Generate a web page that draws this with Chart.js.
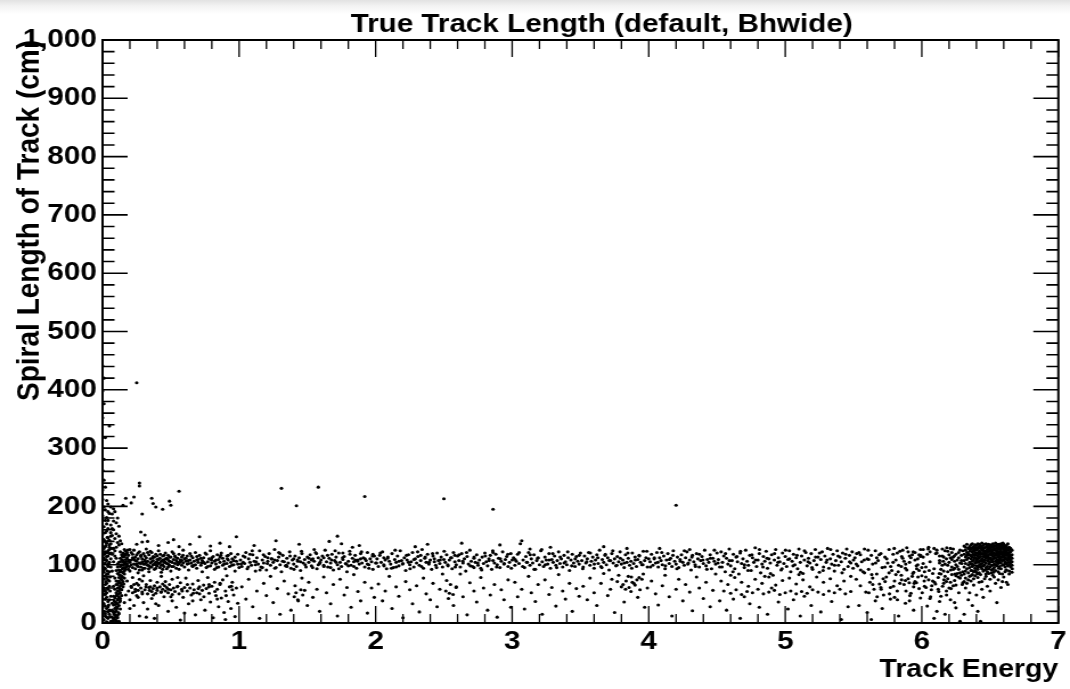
<!DOCTYPE html>
<html>
<head>
<meta charset="utf-8">
<title>True Track Length</title>
<script src="https://cdn.jsdelivr.net/npm/chart.js@4.4.1/dist/chart.umd.min.js"></script>
<style>
  html, body { margin: 0; padding: 0; }
  body { width: 1070px; height: 689px; overflow: hidden;
         background: linear-gradient(to bottom, #e2e2e2 0px, #f3f3f3 6px, #fff 14px); }
  #wrap { width: 939px; height: 689px; transform: scaleX(1.1395); transform-origin: 0 0; }
</style>
</head>
<body>
<div id="wrap"><canvas id="lengthChart" width="939" height="689"></canvas></div>
<script>
// energy (GeV) / spiral length (cm) pairs, flat: e0,l0, e1,l1, ...
const edgeColumn = [
  0.01,5, 0.02,12, 0.00,18, 0.03,25, 0.01,33, 0.04,8, 0.02,41, 0.05,15, 0.00,47, 0.03,52, 0.01,60, 0.04,37,
  0.02,66, 0.05,72, 0.00,78, 0.03,84, 0.01,91, 0.04,97, 0.02,103, 0.06,110, 0.00,116, 0.03,121, 0.01,128,
  0.05,134, 0.02,140, 0.04,146, 0.00,152, 0.03,158, 0.01,165, 0.06,3, 0.02,29, 0.04,58, 0.00,88, 0.05,119,
  0.01,143, 0.03,170, 0.02,176, 0.00,184, 0.04,191, 0.01,199, 0.03,10, 0.05,22, 0.00,35, 0.02,55, 0.04,74,
  0.01,95, 0.03,107, 0.05,126, 0.00,138, 0.02,155, 0.04,162, 0.06,149, 0.01,20, 0.03,44, 0.00,63, 0.02,81,
  0.04,99, 0.01,112, 0.05,130, 0.03,137, 0.00,160, 0.02,122, 0.06,96, 0.05,88, 0.04,115, 0.01,75, 0.03,68,
  0.00,100, 0.02,93, 0.04,124, 0.06,136, 0.01,108, 0.03,114, 0.05,104, 0.00,125, 0.02,131, 0.04,84, 0.06,120,
  0.01,87, 0.03,77, 0.00,70, 0.05,63, 0.02,49, 0.04,28, 0.00,8, 0.01,50, 0.03,2, 0.06,46, 0.05,40, 0.02,16,
  0.04,19, 0.00,26,
  0.015,56, 0.035,89, 0.025,133, 0.045,102, 0.055,79, 0.015,118, 0.035,147, 0.025,71, 0.045,31, 0.055,11,
  0.065,128, 0.015,94, 0.035,60, 0.025,109, 0.045,141, 0.055,55
];
const rampColumn = [
  0.08,2, 0.09,6, 0.10,4, 0.07,10, 0.09,14, 0.11,9, 0.08,18, 0.10,21, 0.12,16, 0.09,25, 0.11,28, 0.08,31,
  0.10,35, 0.12,30, 0.11,40, 0.09,43, 0.13,38, 0.10,47, 0.12,50, 0.11,55, 0.13,52, 0.09,58, 0.12,61, 0.14,57,
  0.11,66, 0.13,69, 0.10,72, 0.14,74, 0.12,78, 0.15,71, 0.13,82, 0.11,85, 0.14,88, 0.16,84, 0.12,91, 0.15,94,
  0.13,97, 0.17,92, 0.14,100, 0.16,103, 0.12,104, 0.15,107, 0.17,109, 0.13,111, 0.16,114, 0.14,117, 0.18,112,
  0.15,120, 0.17,123, 0.16,126, 0.13,122, 0.10,0, 0.08,8, 0.12,3, 0.11,13, 0.07,22, 0.13,24, 0.10,27, 0.09,36,
  0.12,45, 0.14,47, 0.10,52, 0.08,63, 0.11,60, 0.13,64, 0.15,62, 0.09,77, 0.12,72, 0.14,80, 0.10,90, 0.16,77,
  0.15,99, 0.13,105, 0.18,101, 0.17,118, 0.11,96, 0.14,108, 0.16,95, 0.19,106, 0.18,120, 0.15,113, 0.12,83,
  0.10,66, 0.08,46, 0.07,34, 0.09,19, 0.11,33, 0.13,42, 0.12,55, 0.14,66, 0.15,86, 0.13,90, 0.16,89, 0.11,101,
  0.10,111, 0.09,124, 0.07,89, 0.08,105, 0.07,118, 0.08,128, 0.09,115, 0.10,130, 0.12,134,
  0.085,15, 0.095,32, 0.105,48, 0.115,69, 0.125,88, 0.135,99, 0.145,115, 0.155,104, 0.165,117, 0.175,96,
  0.185,125, 0.095,10, 0.105,25, 0.115,42, 0.125,59, 0.135,76, 0.145,93, 0.155,118, 0.075,4, 0.085,38,
  0.115,18, 0.125,36, 0.135,58, 0.145,79, 0.155,67, 0.165,101
];
const pileTail = [
  0.05,142, 0.07,150, 0.03,181, 0.06,168, 0.08,160, 0.02,194, 0.09,145, 0.11,138, 0.04,204, 0.07,187,
  0.10,172, 0.12,149, 0.06,199, 0.08,175, 0.05,188, 0.10,153, 0.13,141, 0.07,162, 0.04,176, 0.09,191,
  0.12,166, 0.14,136, 0.06,155, 0.11,180, 0.03,210, 0.08,196,
  0.00,212, 0.02,233, 0.00,228, 0.01,245, 0.00,262, 0.01,281, 0.00,300, 0.02,318, 0.05,338, 0.00,352,
  0.01,376, 0.00,398, 0.01,420, 0.00,441
];
const outliers = [
  0.25,412, 0.27,235, 0.27,240, 0.56,226, 1.31,231, 1.42,201, 1.58,233, 1.72,149, 1.92,217, 2.50,213,
  2.86,195, 4.20,202, 0.23,216, 0.21,206, 0.17,214, 0.15,202, 0.36,214, 0.37,205, 0.39,199, 0.44,195,
  0.49,209, 0.50,202, 0.29,187, 0.28,156, 0.31,151, 0.29,139, 0.71,148, 0.98,148
];
const softBand = [
  0.18,98, 0.19,116, 0.20,104, 0.20,89, 0.21,121, 0.21,108, 0.22,95, 0.22,112, 0.23,101, 0.23,125, 0.24,93,
  0.24,107, 0.25,117, 0.25,99, 0.26,110, 0.26,86, 0.27,103, 0.27,122, 0.28,96, 0.28,114, 0.29,105, 0.29,91,
  0.30,119, 0.30,101, 0.31,108, 0.31,94, 0.32,112, 0.32,127, 0.33,99, 0.33,106, 0.34,117, 0.34,88, 0.35,103,
  0.35,110, 0.36,96, 0.36,121, 0.37,107, 0.37,100, 0.38,113, 0.38,92, 0.39,104, 0.39,118, 0.40,98, 0.40,109,
  0.41,102, 0.41,124, 0.42,95, 0.42,111, 0.43,106, 0.43,87, 0.44,115, 0.44,100, 0.45,108, 0.45,97, 0.46,120,
  0.46,104, 0.47,111, 0.47,93, 0.48,101, 0.48,116, 0.49,106, 0.49,99, 0.50,113, 0.50,89, 0.51,104, 0.51,122,
  0.52,97, 0.52,109, 0.53,102, 0.53,115, 0.54,94, 0.54,107, 0.55,111, 0.55,100, 0.56,118, 0.56,92, 0.57,105,
  0.57,108, 0.58,99, 0.58,113, 0.59,103, 0.59,125, 0.60,96, 0.60,110, 0.61,106, 0.62,101, 0.62,115, 0.63,91,
  0.64,108, 0.64,119, 0.65,103, 0.66,97, 0.66,112, 0.67,106, 0.68,100, 0.68,121, 0.69,94, 0.70,109, 0.70,104,
  0.71,116, 0.72,99, 0.73,107, 0.73,88, 0.74,112, 0.75,102, 0.76,118, 0.76,95, 0.77,105, 0.78,110, 0.79,98,
  0.79,124, 0.80,103, 0.81,114, 0.82,92, 0.82,106, 0.83,101, 0.84,117, 0.85,109, 0.85,96, 0.86,104, 0.87,120,
  0.88,99, 0.88,111, 0.89,106, 0.90,93, 0.91,115, 0.91,102, 0.92,108, 0.93,97, 0.94,119, 0.94,104, 0.95,110,
  0.96,100, 0.97,113, 0.97,89, 0.98,106, 0.99,118, 0.99,101, 1.00,95,
  0.19,108, 0.21,100, 0.22,118, 0.24,113, 0.26,97, 0.27,91, 0.29,110, 0.31,115, 0.32,103, 0.34,98, 0.36,105,
  0.38,101, 0.40,115, 0.42,103, 0.44,92, 0.46,110, 0.48,96, 0.50,105, 0.19,92, 0.23,109, 0.25,106, 0.28,102,
  0.30,94, 0.33,121, 0.35,96, 0.37,114, 0.39,94, 0.41,109, 0.43,99, 0.45,116, 0.47,102, 0.49,113, 0.20,126,
  0.26,120, 0.31,101, 0.35,123, 0.40,104, 0.44,108, 0.52,119, 0.55,104, 0.58,107, 0.61,111, 0.63,102,
  0.65,115, 0.67,99, 0.69,108, 0.72,111, 0.74,104, 0.77,97, 0.80,112, 0.83,108, 0.86,113, 0.89,101, 0.92,116,
  0.96,107,
  0.25,135, 0.33,140, 0.41,133, 0.48,138, 0.56,131, 0.64,135, 0.79,132, 0.86,137, 0.93,131, 0.52,143,
  0.171,105, 0.196,97, 0.224,111, 0.252,101, 0.281,116, 0.309,106, 0.338,93, 0.366,112, 0.394,99, 0.423,118,
  0.451,104, 0.478,109, 0.507,97, 0.534,113, 0.561,102, 0.589,116, 0.627,107, 0.656,98, 0.691,114, 0.724,103,
  0.752,120, 0.797,108, 0.836,95, 0.866,116, 0.914,110, 0.947,99
];
const softLow = [
  0.18,72, 0.19,55, 0.20,40, 0.21,63, 0.22,78, 0.22,52, 0.23,30, 0.24,58, 0.25,68, 0.25,47, 0.26,56, 0.27,12,
  0.27,75, 0.28,60, 0.29,53, 0.30,35, 0.30,81, 0.31,57, 0.32,66, 0.33,50, 0.33,24, 0.34,61, 0.35,73, 0.36,54,
  0.36,42, 0.37,59, 0.38,8, 0.38,64, 0.39,51, 0.40,70, 0.40,56, 0.41,30, 0.42,62, 0.43,53, 0.43,80, 0.44,58,
  0.45,45, 0.46,55, 0.46,71, 0.47,61, 0.48,20, 0.48,52, 0.49,66, 0.50,57, 0.51,38, 0.51,75, 0.52,60, 0.53,54,
  0.54,27, 0.55,63, 0.56,50, 0.57,69, 0.57,5, 0.58,58, 0.59,44, 0.60,61, 0.61,77, 0.62,55, 0.63,33, 0.64,60,
  0.65,48, 0.66,67, 0.67,57, 0.68,14, 0.69,52, 0.70,73, 0.71,62, 0.72,40, 0.73,56, 0.74,65, 0.75,22, 0.76,59,
  0.77,78, 0.78,51, 0.79,36, 0.80,63, 0.81,9, 0.82,70, 0.83,47, 0.84,58, 0.85,28, 0.86,66, 0.87,43, 0.88,74,
  0.89,18, 0.90,55, 0.91,81, 0.92,37, 0.93,62, 0.94,25, 0.95,70, 0.96,48, 0.97,11, 0.98,60, 0.99,34,
  0.16,35, 0.17,48, 0.20,25, 0.23,66, 0.26,44, 0.29,72, 0.32,10, 0.35,62, 0.39,33, 0.44,67, 0.50,45, 0.55,78,
  0.60,17, 0.66,38, 0.71,50, 0.78,66, 0.84,41, 0.90,6, 0.95,57,
  0.212,61, 0.238,54, 0.263,65, 0.291,50, 0.318,62, 0.344,56, 0.372,48, 0.399,60, 0.427,53, 0.455,64,
  0.482,58, 0.511,49, 0.547,62, 0.583,55, 0.621,66, 0.664,51, 0.702,59, 0.742,45, 0.779,62, 0.823,54,
  0.861,68, 0.905,47, 0.944,63
];
const midBand = [
  1.01,108, 1.02,97, 1.03,115, 1.04,102, 1.05,121, 1.06,93, 1.07,110, 1.08,104, 1.09,99, 1.10,117, 1.11,106,
  1.12,89, 1.13,112, 1.14,101, 1.15,124, 1.16,96, 1.17,108, 1.18,103, 1.19,114, 1.20,91, 1.21,106, 1.22,119,
  1.23,99, 1.24,110, 1.25,104, 1.26,126, 1.27,95, 1.28,107, 1.29,113, 1.30,100, 1.31,88, 1.32,116, 1.33,105,
  1.34,98, 1.35,111, 1.36,103, 1.37,122, 1.38,94, 1.39,108, 1.40,101, 1.41,115, 1.42,97, 1.43,106, 1.44,112,
  1.45,90, 1.46,119, 1.47,103, 1.48,109, 1.49,96, 1.50,113, 1.03,104, 1.08,118, 1.12,100, 1.17,95, 1.21,112,
  1.26,108, 1.30,119, 1.35,97, 1.40,110, 1.45,105, 1.11,133, 1.27,141, 1.44,135,
  1.51,104, 1.52,117, 1.53,98, 1.54,110, 1.55,106, 1.56,121, 1.57,93, 1.58,112, 1.59,102, 1.60,108, 1.61,115,
  1.62,99, 1.63,125, 1.64,105, 1.65,96, 1.66,111, 1.67,103, 1.68,118, 1.69,91, 1.70,107, 1.71,113, 1.72,100,
  1.73,120, 1.74,104, 1.75,97, 1.76,109, 1.77,114, 1.78,102, 1.79,88, 1.80,106, 1.81,123, 1.82,99, 1.83,111,
  1.84,105, 1.85,116, 1.86,94, 1.87,108, 1.88,101, 1.89,119, 1.90,103, 1.91,112, 1.92,96, 1.93,107, 1.94,121,
  1.95,100, 1.96,110, 1.97,105, 1.98,92, 1.99,115, 2.00,103, 1.53,108, 1.58,100, 1.62,112, 1.67,95, 1.71,104,
  1.76,120, 1.80,98, 1.85,108, 1.89,110, 1.94,101, 1.98,118, 1.55,126, 1.83,130, 1.66,140, 1.75,136, 1.88,133,
  2.01,110, 2.02,97, 2.03,116, 2.04,104, 2.05,122, 2.06,100, 2.07,108, 2.08,93, 2.09,113, 2.10,106, 2.11,101,
  2.12,119, 2.13,95, 2.14,109, 2.15,104, 2.16,115, 2.17,98, 2.18,124, 2.19,107, 2.20,102, 2.21,112, 2.22,90,
  2.23,108, 2.24,117, 2.25,100, 2.26,105, 2.27,121, 2.28,96, 2.29,110, 2.30,103, 2.31,114, 2.32,99, 2.33,107,
  2.34,126, 2.35,94, 2.36,111, 2.37,104, 2.38,118, 2.39,101, 2.40,108, 2.41,92, 2.42,115, 2.43,105, 2.44,99,
  2.45,120, 2.46,107, 2.47,102, 2.48,113, 2.49,96, 2.50,109, 2.06,112, 2.15,96, 2.24,104, 2.33,116, 2.43,110,
  2.29,131, 2.38,135,
  2.51,104, 2.52,117, 2.53,98, 2.54,108, 2.55,112, 2.56,93, 2.57,121, 2.58,105, 2.59,100, 2.60,115, 2.61,107,
  2.62,96, 2.63,119, 2.64,103, 2.65,110, 2.66,89, 2.67,114, 2.68,101, 2.69,125, 2.70,106, 2.71,97, 2.72,111,
  2.73,104, 2.74,117, 2.75,99, 2.76,108, 2.77,94, 2.78,113, 2.79,102, 2.80,120, 2.81,105, 2.82,98, 2.83,110,
  2.84,116, 2.85,92, 2.86,107, 2.87,103, 2.88,118, 2.89,100, 2.90,111, 2.91,95, 2.92,106, 2.93,122, 2.94,101,
  2.95,109, 2.96,114, 2.97,97, 2.98,104, 2.99,119, 3.00,108, 2.58,116, 2.72,95, 2.86,121, 2.63,137, 2.91,134,
  3.01,112, 3.02,99, 3.03,106, 3.04,118, 3.05,102, 3.06,136, 3.07,141, 3.08,108, 3.09,95, 3.10,114, 3.11,104,
  3.12,121, 3.13,99, 3.14,110, 3.15,103, 3.16,117, 3.17,92, 3.18,107, 3.19,112, 3.20,100, 3.21,124, 3.22,105,
  3.23,97, 3.24,113, 3.25,108, 3.26,101, 3.27,119, 3.28,94, 3.29,109, 3.30,104, 3.31,115, 3.32,99, 3.33,107,
  3.34,122, 3.35,102, 3.36,110, 3.37,96, 3.38,116, 3.39,105, 3.40,100, 3.41,112, 3.42,90, 3.43,108, 3.44,118,
  3.45,103, 3.46,97, 3.47,114, 3.48,106, 3.49,101, 3.50,120, 3.13,127, 3.28,130,
  3.51,107, 3.52,96, 3.53,115, 3.54,103, 3.55,110, 3.56,121, 3.57,99, 3.58,106, 3.59,113, 3.60,94, 3.61,108,
  3.62,117, 3.63,102, 3.64,125, 3.65,97, 3.66,109, 3.67,104, 3.68,116, 3.69,100, 3.70,112, 3.71,91, 3.72,107,
  3.73,119, 3.74,103, 3.75,110, 3.76,98, 3.77,114, 3.78,105, 3.79,122, 3.80,101, 3.81,108, 3.82,95, 3.83,117,
  3.84,104, 3.85,111, 3.86,99, 3.87,106, 3.88,120, 3.89,102, 3.90,113, 3.91,97, 3.92,109, 3.93,116, 3.94,104,
  3.95,100, 3.96,123, 3.97,107, 3.98,112, 3.99,96, 4.00,110, 3.67,131, 3.84,128,
  4.01,105, 4.02,118, 4.03,99, 4.04,110, 4.05,103, 4.06,121, 4.07,96, 4.08,112, 4.09,107, 4.10,100, 4.11,115,
  4.12,93, 4.13,108, 4.14,119, 4.15,102, 4.16,111, 4.17,97, 4.18,124, 4.19,106, 4.20,101, 4.21,113, 4.22,95,
  4.23,109, 4.24,117, 4.25,104, 4.26,99, 4.27,112, 4.28,122, 4.29,103, 4.30,108, 4.31,91, 4.32,116, 4.33,105,
  4.34,100, 4.35,119, 4.36,110, 4.37,96, 4.38,107, 4.39,114, 4.40,102, 4.41,125, 4.42,98, 4.43,109, 4.44,104,
  4.45,117, 4.46,93, 4.47,111, 4.48,106, 4.49,101, 4.50,120, 4.08,128, 4.30,126,
  1.014,101, 1.043,113, 1.067,96, 1.096,124, 1.124,105, 1.153,91, 1.178,117, 1.207,102, 1.236,110, 1.262,94,
  1.291,121, 1.318,106, 1.346,99, 1.373,115, 1.402,92, 1.428,108, 1.457,123, 1.484,100, 1.512,111, 1.538,95,
  1.566,119, 1.593,104, 1.621,97, 1.648,116, 1.677,108, 1.703,124, 1.731,93, 1.758,112, 1.786,101, 1.812,118,
  1.841,97, 1.867,106, 1.896,122, 1.922,110, 1.951,94, 1.977,115,
  2.006,103, 2.034,120, 2.061,98, 2.087,111, 2.116,94, 2.143,125, 2.171,106, 2.197,101, 2.226,116, 2.252,93,
  2.281,109, 2.308,122, 2.336,97, 2.363,113, 2.391,104, 2.417,119, 2.446,95, 2.473,108, 2.502,123, 2.528,100,
  2.556,112, 2.583,96, 2.611,117, 2.638,106, 2.666,121, 2.693,98, 2.721,113, 2.748,103, 2.776,91, 2.803,115,
  2.831,107, 2.858,124, 2.886,96, 2.913,110, 2.941,102, 2.968,118, 2.994,94,
  3.022,109, 3.051,121, 3.077,97, 3.106,104, 3.132,117, 3.161,92, 3.187,111, 3.216,126, 3.242,100, 3.271,108,
  3.297,119, 3.326,95, 3.352,113, 3.381,103, 3.407,122, 3.436,98, 3.462,110, 3.491,116, 3.517,93, 3.546,105,
  3.572,120, 3.601,101, 3.627,112, 3.656,95, 3.682,118, 3.711,107, 3.737,124, 3.766,99, 3.792,111, 3.821,103,
  3.847,120, 3.876,94, 3.902,108, 3.931,115, 3.957,100, 3.986,123,
  4.012,96, 4.041,112, 4.067,104, 4.096,121, 4.122,98, 4.151,109, 4.177,116, 4.206,93, 4.232,106, 4.261,124,
  4.287,101, 4.316,113, 4.342,97, 4.371,118, 4.397,108, 4.426,92, 4.452,111, 4.481,125
];
const midLow = [
  1.02,62, 1.05,41, 1.07,75, 1.10,28, 1.13,55, 1.15,8, 1.18,68, 1.20,47, 1.23,80, 1.25,35, 1.28,59, 1.30,15,
  1.33,72, 1.36,50, 1.38,22, 1.41,64, 1.43,40, 1.46,77, 1.48,56, 1.50,30,
  1.51,70, 1.54,44, 1.57,58, 1.59,20, 1.62,79, 1.64,52, 1.67,33, 1.69,66, 1.72,12, 1.74,75, 1.77,48, 1.79,61,
  1.82,27, 1.84,83, 1.87,54, 1.89,38, 1.92,70, 1.94,17, 1.97,60, 1.99,44,
  2.02,67, 2.05,38, 2.07,55, 2.10,80, 2.12,25, 2.15,62, 2.17,46, 2.20,9, 2.22,71, 2.25,57, 2.27,33, 2.30,64,
  2.32,19, 2.35,77, 2.37,50, 2.40,40, 2.42,68, 2.45,28, 2.47,58, 2.49,84,
  2.52,73, 2.54,51, 2.57,30, 2.59,62, 2.62,84, 2.64,45, 2.67,14, 2.69,69, 2.72,55, 2.74,36, 2.77,78, 2.79,60,
  2.82,22, 2.84,48, 2.87,66, 2.89,10, 2.92,57, 2.94,40, 2.97,74, 2.99,27,
  3.02,70, 3.04,45, 3.07,58, 3.09,24, 3.12,80, 3.14,52, 3.17,37, 3.19,66, 3.22,15, 3.24,74, 3.27,49, 3.29,61,
  3.32,29, 3.34,83, 3.37,55, 3.39,41, 3.42,68, 3.44,20, 3.47,59, 3.49,46,
  3.52,63, 3.55,40, 3.57,77, 3.60,52, 3.62,30, 3.65,68, 3.67,85, 3.70,47, 3.72,58, 3.75,18, 3.77,71, 3.80,62,
  3.82,36, 3.85,80, 3.87,54, 3.90,65, 3.92,44, 3.95,75, 3.97,27, 3.99,60, 3.78,82, 3.83,58, 3.88,70, 3.93,78,
  3.73,75, 3.96,84,
  4.02,72, 4.05,50, 4.07,31, 4.10,64, 4.12,82, 4.15,45, 4.17,12, 4.20,58, 4.22,75, 4.25,38, 4.27,66, 4.30,53,
  4.32,21, 4.35,79, 4.37,60, 4.40,42, 4.42,70, 4.45,28, 4.47,56, 4.49,84,
  1.404,45, 1.417,52, 1.433,38, 1.452,57, 1.466,48, 2.514,55, 2.533,42, 2.548,66, 2.567,49, 2.589,61,
  3.812,66, 3.834,72, 3.856,61, 3.873,79, 3.891,68, 3.914,74, 3.936,57
];
const wideBand = [
  4.51,109, 4.52,96, 4.53,122, 4.54,104, 4.55,115, 4.56,88, 4.57,111, 4.58,101, 4.59,127, 4.60,98, 4.61,107,
  4.62,118, 4.63,93, 4.64,113, 4.65,105, 4.66,84, 4.67,120, 4.68,102, 4.69,110, 4.70,95, 4.71,125, 4.72,106,
  4.73,99, 4.74,116, 4.75,90, 4.76,112, 4.77,104, 4.78,129, 4.79,97, 4.80,108, 4.81,119, 4.82,86, 4.83,101,
  4.84,114, 4.85,106, 4.86,123, 4.87,94, 4.88,110, 4.89,103, 4.90,117, 4.91,82, 4.92,108, 4.93,126, 4.94,99,
  4.95,112, 4.96,105, 4.97,91, 4.98,120, 4.99,102, 5.00,114, 5.01,97, 5.02,109, 5.03,124, 5.04,88, 5.05,106,
  5.06,118, 5.07,100, 5.08,112, 5.09,93, 5.10,127, 5.11,104, 5.12,115, 5.13,85, 5.14,108, 5.15,121, 5.16,98,
  5.17,111, 5.18,103, 5.19,119, 5.20,92, 5.21,107, 5.22,126, 5.23,100, 5.24,113, 5.25,87, 5.26,109, 5.27,122,
  5.28,96, 5.29,115, 5.30,104, 5.31,128, 5.32,94, 5.33,110, 5.34,101, 5.35,118, 5.36,89, 5.37,107, 5.38,124,
  5.39,99, 5.40,113, 5.41,105, 5.42,120, 5.43,92, 5.44,111, 5.45,127, 5.46,97, 5.47,116, 5.48,103, 5.49,122,
  5.50,108,
  4.53,72, 4.58,66, 4.63,78, 4.68,70, 4.73,63, 4.78,75, 4.83,68, 4.88,79, 4.93,65, 4.98,73, 5.03,77, 5.08,67,
  5.13,74, 5.18,62, 5.23,79, 5.28,70, 5.33,76, 5.38,64, 5.43,72, 5.48,80, 4.60,82, 4.85,80, 5.10,83,
  4.507,103, 4.536,96, 4.562,119, 4.591,107, 4.617,88, 4.646,114, 4.672,123, 4.701,100, 4.727,90, 4.756,117,
  4.782,108, 4.811,126, 4.837,96, 4.866,111, 4.892,85, 4.921,119, 4.947,104, 4.976,93, 5.002,125, 5.031,110,
  5.057,98, 5.086,116, 5.112,87, 5.141,124, 5.167,105, 5.196,95, 5.222,113, 5.251,120, 5.277,90, 5.306,108,
  5.332,126, 5.361,99, 5.387,115, 5.416,86, 5.442,118, 5.471,105, 5.497,94
];
const wideLow = [
  4.55,55, 4.60,51, 4.64,57, 4.68,49, 4.72,54, 4.76,52, 4.80,58, 4.84,50, 4.88,53, 4.92,56, 4.96,49, 5.00,52,
  5.04,55, 5.08,50, 5.12,54, 5.16,51, 5.20,57, 5.24,53, 5.28,49, 5.32,55, 5.36,52, 5.40,58, 5.44,50, 5.48,54,
  4.70,45, 4.90,60, 5.14,46,
  4.52,38, 4.57,22, 4.62,41, 4.67,8, 4.74,33, 4.81,27, 4.87,15, 4.95,36, 5.02,24, 5.06,40, 5.11,12, 5.19,30,
  5.26,19, 5.34,37, 5.41,6, 5.46,28
];
const riseBand = [
  5.51,112, 5.52,75, 5.53,98, 5.54,121, 5.55,64, 5.56,105, 5.57,88, 5.58,127, 5.59,53, 5.60,110, 5.61,92,
  5.62,70, 5.63,116, 5.64,101, 5.65,58, 5.66,124, 5.67,84, 5.68,107, 5.69,67, 5.70,119, 5.71,95, 5.72,48,
  5.73,113, 5.74,79, 5.75,103, 5.76,126, 5.77,61, 5.78,90, 5.79,118, 5.80,72, 5.81,108, 5.82,55, 5.83,99,
  5.84,123, 5.85,82, 5.86,111, 5.87,66, 5.88,94, 5.89,129, 5.90,76, 5.91,104, 5.92,51, 5.93,117, 5.94,87,
  5.95,121, 5.96,69, 5.97,100, 5.98,59, 5.99,114, 6.00,81, 6.01,126, 6.02,63, 6.03,96, 6.04,118, 6.05,74,
  6.06,122, 6.07,57, 6.08,85, 6.09,128, 6.10,67, 6.11,120, 6.12,78, 6.13,103, 6.14,46, 6.15,115, 6.16,89,
  6.17,124, 6.18,71, 6.19,99, 6.20,60, 6.21,112, 6.22,83, 6.23,127, 6.24,94, 6.25,65, 6.26,108, 6.27,121,
  6.28,77, 6.29,116, 6.30,88,
  5.52,101, 5.55,117, 5.58,86, 5.61,109, 5.64,77, 5.67,112, 5.70,61, 5.73,96, 5.76,86, 5.79,104, 5.82,120,
  5.85,97, 5.88,73, 5.91,115, 5.94,62, 5.97,110, 6.00,95, 6.03,79, 6.06,105, 6.09,93, 6.12,58, 6.15,99,
  6.18,110, 6.21,70, 6.24,106, 6.27,92, 6.30,124, 5.81,83, 5.84,68, 5.87,106, 5.90,122, 5.93,80, 5.96,98,
  5.99,126, 6.02,88, 6.05,130, 6.08,72, 6.11,125, 6.14,84, 6.17,101, 6.20,117, 6.23,64, 6.26,97, 6.29,82,
  5.95,108, 5.98,90, 6.01,113, 6.13,115, 6.16,68, 6.19,123, 6.22,96, 6.25,118, 6.28,103, 6.19,88, 6.22,109,
  6.25,81, 6.28,125, 6.15,127, 6.18,55, 6.21,128, 6.24,73, 6.27,112, 6.30,69, 5.86,125, 5.89,91, 5.92,112,
  5.95,71, 5.98,117, 6.01,102, 6.13,107, 6.16,113, 6.19,76, 6.22,121, 6.25,100, 6.28,86, 6.14,92, 6.17,80,
  6.20,104, 6.23,113, 6.26,85, 6.29,107,
  5.523,119, 5.552,91, 5.578,108, 5.607,125, 5.633,83, 5.662,103, 5.688,117, 5.717,76, 5.743,110, 5.772,97,
  5.798,128, 5.827,88, 5.853,114, 5.882,101, 5.908,69, 5.937,122, 5.963,93, 5.992,116, 6.018,72, 6.047,127,
  6.073,64, 6.102,119, 6.128,85, 6.157,106, 6.183,129, 6.212,91, 6.238,115, 6.267,79, 6.293,102,
  5.612,52, 5.641,66, 5.673,45, 5.702,58, 5.731,71, 5.763,50, 5.792,63, 5.821,40, 5.852,74, 5.884,55,
  5.913,47, 5.944,68, 5.972,79, 6.003,52, 6.031,61, 6.064,45, 6.093,70, 6.124,54, 6.152,63, 6.181,48,
  6.214,59, 6.243,84, 6.271,52, 6.296,66, 5.934,85, 6.054,90, 6.162,74, 6.232,92,
  5.54,30, 5.60,18, 5.66,38, 5.71,25, 5.77,41, 5.83,12, 5.88,34, 5.94,22, 5.99,43, 6.04,29, 6.09,8, 6.13,37,
  6.17,15, 6.21,40, 6.25,26, 6.28,3, 5.63,6, 5.80,44, 5.91,38, 6.06,42, 6.11,20, 6.24,35
];
// top-end pile: energy first, then the lengths seen at that energy
const clusterRows = [
  [6.31, 118,96,132,84,107,71],
  [6.32, 125,102,89,113,77,130],
  [6.33, 109,121,93,135,68,116],
  [6.34, 100,128,86,112,119,74],
  [6.35, 131,95,117,104,80,123],
  [6.36, 110,126,90,134,101,72,115],
  [6.37, 122,106,129,97,83,113,136],
  [6.38, 117,131,99,124,108,88,127,76],
  [6.39, 112,134,103,121,94,128,116,81],
  [6.40, 126,108,133,98,119,87,111,129],
  [6.41, 120,104,136,115,92,127,109,78],
  [6.42, 131,99,123,112,135,86,118,105],
  [6.43, 114,128,101,132,96,121,107,83],
  [6.44, 125,110,137,93,118,130,102,71],
  [6.45, 119,133,106,127,89,114,124,98],
  [6.46, 108,129,116,135,100,122,91,113],
  [6.47, 130,103,124,111,136,95,118,80],
  [6.48, 115,132,107,126,97,121,134,88],
  [6.49, 123,110,135,101,117,129,93,106],
  [6.50, 128,112,119,133,96,124,104,75],
  [6.51, 117,134,108,126,99,121,131,86],
  [6.52, 124,105,130,114,136,92,119,109],
  [6.53, 111,127,101,133,120,95,115,129],
  [6.54, 132,118,106,125,90,137,112,100],
  [6.55, 121,109,129,116,98,134,104,123],
  [6.56, 126,113,135,102,119,88,130,107],
  [6.57, 110,131,122,97,128,115,105,134],
  [6.58, 119,136,103,127,112,93,124,131],
  [6.59, 129,107,121,114,133,99,117,84],
  [6.60, 113,126,100,135,118,108,130,122],
  [6.61, 124,111,132,96,120,128,104,116],
  [6.62, 116,133,109,127,101,122,91,130],
  [6.63, 127,104,119,136,112,98,125,108],
  [6.64, 114,130,121,100,118,89,110],
  [6.65, 122,108,128,115,103,96],
  [6.66, 117,111,105,125,99]
];
const clusterTail = [
  6.32,60, 6.35,52, 6.38,65, 6.40,48, 6.42,70, 6.44,58, 6.46,76, 6.48,63, 6.50,55, 6.52,82, 6.54,68, 6.56,74,
  6.58,61, 6.60,79, 6.62,70, 6.64,84, 6.57,85, 6.61,88, 6.63,66, 6.34,40, 6.45,44, 6.53,79, 6.59,71, 6.66,87,
  6.41,20, 6.37,30, 6.55,35, 6.49,85, 6.31,15, 6.43,3, 6.36,81, 6.39,90, 6.47,84, 6.51,91,
  6.352,128, 6.367,101, 6.384,112, 6.397,125, 6.412,96, 6.428,133, 6.441,107, 6.456,120, 6.472,92, 6.488,128,
  6.503,111, 6.517,99, 6.534,126, 6.548,117, 6.563,94, 6.579,108, 6.594,137, 6.611,102, 6.626,119, 6.641,126,
  6.655,112, 6.373,118, 6.406,84, 6.438,97, 6.469,115, 6.497,133, 6.526,87, 6.559,121, 6.588,113, 6.617,91,
  6.646,104, 6.365,90, 6.395,104, 6.425,118, 6.455,105, 6.485,113, 6.515,125, 6.545,99, 6.575,119, 6.605,127,
  6.635,115, 6.662,93
];

const xTicks = [0, 1, 2, 3, 4, 5, 6, 7];
const yTicks = [0, 100, 200, 300, 400, 500, 600, 700, 800, 900, 1000];

function toPoints(flat) {
  const out = [];
  for (let i = 0; i < flat.length; i += 2) out.push({ x: flat[i], y: flat[i + 1] });
  return out;
}
function rowsToPoints(rows) {
  const out = [];
  rows.forEach(r => r.slice(1).forEach(l => out.push({ x: r[0], y: l })));
  return out;
}

const hits = [].concat(
  toPoints(edgeColumn), toPoints(rampColumn), toPoints(pileTail), toPoints(outliers),
  toPoints(softBand), toPoints(softLow), toPoints(midBand), toPoints(midLow),
  toPoints(wideBand), toPoints(wideLow), toPoints(riseBand),
  rowsToPoints(clusterRows), toPoints(clusterTail)
);

const FONT = '"Liberation Sans", Arial, Helvetica, sans-serif';

// ROOT style frame: box with inward major/minor ticks on all four sides
const rootFrame = {
  id: 'rootFrame',
  afterDraw(chart) {
    const { ctx, chartArea: a, scales: { x, y } } = chart;
    ctx.save();
    ctx.strokeStyle = '#000';

    ctx.lineWidth = 1.3;
    ctx.beginPath();
    for (let i = 0; i <= 35; i++) {
      const px = x.getPixelForValue(i / 5);
      const len = i % 5 === 0 ? 17 : 9;
      ctx.moveTo(px, a.bottom); ctx.lineTo(px, a.bottom - len);
      ctx.moveTo(px, a.top); ctx.lineTo(px, a.top + len);
    }
    ctx.stroke();

    ctx.lineWidth = 1.6;
    ctx.beginPath();
    for (let i = 0; i <= 50; i++) {
      const py = y.getPixelForValue(i * 20);
      const len = i % 5 === 0 ? 22 : 10.5;
      ctx.moveTo(a.left, py); ctx.lineTo(a.left + len, py);
      ctx.moveTo(a.right, py); ctx.lineTo(a.right - len, py);
    }
    ctx.stroke();

    ctx.lineWidth = 2;
    ctx.strokeRect(a.left, a.top, a.right - a.left, a.bottom - a.top);

    ctx.fillStyle = '#000';
    ctx.font = 'bold 26px ' + FONT;
    ctx.textAlign = 'center';
    ctx.textBaseline = 'alphabetic';
    ctx.fillText('True Track Length (default, Bhwide)', 528, 32);
    ctx.restore();
  }
};

new Chart(document.getElementById('lengthChart'), {
  type: 'scatter',
  data: {
    datasets: [{
      data: hits,
      backgroundColor: '#000',
      borderWidth: 0,
      pointRadius: 1.55,
      pointHoverRadius: 1.55
    }]
  },
  options: {
    responsive: false,
    devicePixelRatio: 1,
    animation: false,
    events: [],
    layout: { padding: { top: 40, right: 7, left: 0, bottom: 0 } },
    plugins: { legend: { display: false }, tooltip: { enabled: false } },
    scales: {
      x: {
        type: 'linear', min: 0, max: 7,
        afterBuildTicks: s => { s.ticks = xTicks.map(v => ({ value: v })); },
        afterFit: s => { s.height = 66; },
        grid: { display: false, drawTicks: false },
        border: { display: false },
        ticks: { color: '#000', padding: 3, maxRotation: 0, autoSkip: false,
                 font: { family: FONT, size: 26, weight: 'bold' } },
        title: { display: true, text: 'Track Energy', align: 'end', color: '#000',
                 padding: { top: 0, bottom: 4 },
                 font: { family: FONT, size: 25, weight: 'bold' } }
      },
      y: {
        type: 'linear', min: 0, max: 1000,
        afterBuildTicks: s => { s.ticks = yTicks.map(v => ({ value: v })); },
        afterFit: s => { s.width = 90; },
        grid: { display: false, drawTicks: false },
        border: { display: false },
        ticks: { color: '#000', padding: 5, autoSkip: false,
                 font: { family: FONT, size: 26, weight: 'bold' } },
        title: { display: true, text: 'Spiral Length of Track (cm)', align: 'end', color: '#000',
                 padding: { top: 9, bottom: 0 },
                 font: { family: FONT, size: 28, weight: 'bold' } }
      }
    }
  },
  plugins: [rootFrame]
});
</script>
</body>
</html>
